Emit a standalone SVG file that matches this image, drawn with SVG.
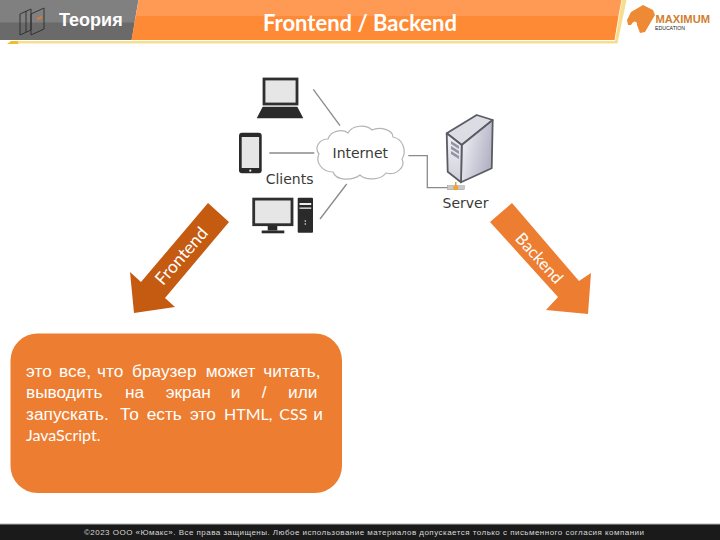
<svg xmlns="http://www.w3.org/2000/svg" width="720" height="540" viewBox="0 0 720 540">
  <defs>
    <linearGradient id="serverSide" x1="0" y1="0" x2="1" y2="0.4">
      <stop offset="0" stop-color="#f6f6fa"/>
      <stop offset="1" stop-color="#b4b4c6"/>
    </linearGradient>
    <linearGradient id="serverFront" x1="0" y1="0" x2="0" y2="1">
      <stop offset="0" stop-color="#f2f2f6"/>
      <stop offset="1" stop-color="#cfcfda"/>
    </linearGradient>
  </defs>
  <style>
    .sans { font-family: "Liberation Sans", Arial, sans-serif; }
    .lato { font-family: Lato, "Open Sans", sans-serif; }
    .label { font-family: "DejaVu Sans", sans-serif; font-size: 14px; fill: #3a3a3a; }
    .body { font-size: 17.300px; fill: #fff; }
    .latin { font-family: Lato, "Open Sans", sans-serif; font-size: 16px; }
    .dark { fill: #2a2a2a; }
    .screen { fill: #e6e6e6; stroke: #2f2f2f; stroke-width: 2.800; }
    .wire { stroke: #8a8a8a; stroke-width: 1.300; fill: none; }
    .tower { stroke: #5a5c64; stroke-width: 1.800; stroke-linejoin: round; }
    .vent { fill: #8f93a3; }
  </style>

  <rect width="720" height="540" fill="#fff"/>

  <g id="header">
    <polygon points="0,0 138.500,0 131.500,40 0,40" fill="#808080"/>
    <polygon points="0,22.500 134.500,22.500 131.500,40 0,40" fill="#6a6a6a"/>
    <polygon points="138.500,0 621.500,0 618.500,16 135.700,16" fill="#ff9a55"/>
    <polygon points="135.700,16 618.500,16 614.500,40 131.500,40" fill="#ff8a35"/>
    <polygon points="7,44 11,41 21,41 18,44" fill="#eebf2c"/>
    <polygon points="18,41 615,41 622,0 626.500,0 617.500,43.500 18,43.500" fill="#f5df8f"/>
    <g fill="none" stroke="#2b2b2b" stroke-width="0.900">
      <polygon points="20,14 31,9 31,30 20,35"/>
      <polygon points="31,14 44,8 44,29 31,35"/>
      <line x1="26" y1="11" x2="26" y2="32"/>
    </g>
    <polygon points="37,18 42,16 42,18 37,20" fill="#e8792c"/>
    <text class="sans" x="59" y="25.500" font-size="18" font-weight="700" fill="#fff">Теория</text>
    <text class="lato" x="360" y="31" font-size="22" font-weight="700" fill="#fff" text-anchor="middle">Frontend / Backend</text>
  </g>

  <g id="logo">
    <polygon points="631,12 643,5 653,10 655,15 645,32 640,33 637,25 628,25 627,20" fill="#ee8a35"/>
    <path d="M631,25 Q634,19 637,23 L637,26 L631,26 Z" fill="#fff"/>
    <text class="sans" x="655.500" y="23" font-size="10.500" font-weight="700" fill="#d0802f" textLength="54.500" lengthAdjust="spacingAndGlyphs">MAXIMUM</text>
    <text class="sans" x="655" y="29.500" font-size="4.500" fill="#222" textLength="30" lengthAdjust="spacingAndGlyphs">EDUCATION</text>
  </g>

  <g id="connectors">
    <line class="wire" x1="313.300" y1="89.300" x2="340" y2="125.700"/>
    <line class="wire" x1="269.300" y1="153" x2="314.300" y2="153"/>
    <line class="wire" x1="346.700" y1="184" x2="320" y2="219"/>
    <polyline class="wire" points="408.300,155.700 427.300,155.700 427.300,187.700 448,187.700"/>
  </g>

  <g id="laptop">
    <rect class="screen" x="264" y="79" width="33" height="25"/>
    <polygon class="dark" points="262.700,106.700 297.300,106.700 303.300,118.300 256.700,118.300"/>
  </g>

  <g id="phone">
    <rect class="dark" x="239" y="132.700" width="22.700" height="40.600" rx="3"/>
    <rect x="241.700" y="137" width="17.400" height="31" fill="#e6e6e6"/>
    <circle cx="250.300" cy="170.700" r="1.100" fill="#eee"/>
  </g>

  <g id="desktop">
    <rect class="screen" x="253.700" y="199.100" width="38.300" height="25.600"/>
    <rect class="dark" x="267.700" y="226" width="9.600" height="4.500"/>
    <rect class="dark" x="261.700" y="230.500" width="22.600" height="2.800"/>
    <rect class="dark" x="297.700" y="197.700" width="15.300" height="35" rx="1"/>
    <rect x="299.500" y="203" width="11.700" height="2" fill="#eee"/>
    <rect x="299.500" y="207.500" width="11.700" height="1.300" fill="#eee"/>
    <circle cx="305.300" cy="221" r="0.800" fill="#eee"/>
    <circle cx="305.300" cy="224" r="0.800" fill="#eee"/>
  </g>

  <g id="clients">
    <text class="label" x="265.700" y="183.500">Clients</text>
  </g>

  <g id="internet">
    <path d="M328,139 C331,130 343,129 348,133 C352,125 366,124 372,130 C380,126 393,130 393,137 C403,139 407,151 402,159 C406,167 396,176 386,173 C381,180 366,181 360,175 C352,181 336,181 333,172 C322,172 315,162 319,154 C314,148 319,139 328,139 Z" fill="#fff" stroke="#b4b4b4" stroke-width="1.200"/>
    <text class="label" x="332.500" y="158">Internet</text>
  </g>

  <g id="server">
    <polygon class="tower" points="446.700,133.300 476.700,115 492.700,120 461.700,145" fill="#dcdce4"/>
    <polygon class="tower" points="461.700,145 492.700,120 491.700,168.300 461,182.300" fill="url(#serverSide)"/>
    <polygon class="tower" points="446.700,133.300 461.700,145 461,182.300 447.700,171.700" fill="url(#serverFront)"/>
    <polygon class="vent" points="451,141 459,146 459,149 451,144"/>
    <polygon class="vent" points="451,146 459,151 459,154 451,149"/>
    <polygon class="vent" points="451,151 459,156 459,159 451,154"/>
    <rect x="455" y="182" width="1.500" height="4" fill="#c9a25a"/>
    <rect x="447.300" y="185.700" width="17" height="4" fill="#c9c9c9" stroke="#9a9a9a" stroke-width="0.500"/>
    <circle cx="455.700" cy="187.700" r="2.500" fill="#f0a32e"/>
    <text class="label" x="442.500" y="207.700">Server</text>
  </g>

  <g id="arrow-frontend">
    <polygon points="208,203 229,222 165,298 175,307 134,313 130,272 141,282" fill="#c55a11"/>
    <text class="lato" font-size="17.500" fill="#fff" text-anchor="middle" transform="translate(186,260) rotate(-49)">Frontend</text>
  </g>

  <g id="arrow-backend">
    <polygon points="512,203 490,222 558,297 546,310 588,314 591,273 579,281" fill="#ed7d31"/>
    <text class="lato" font-size="16.500" fill="#fff" text-anchor="middle" transform="translate(535,262) rotate(48)">Backend</text>
  </g>

  <g id="description">
    <rect x="10.500" y="333.500" width="331.500" height="159.500" rx="27" fill="#ed7d31"/>
    <g class="sans body">
      <text y="376.500"><tspan x="26">это</tspan><tspan x="59">все,</tspan><tspan x="97">что</tspan><tspan x="132">браузер</tspan><tspan x="205.700">может</tspan><tspan x="263.300">читать,</tspan></text>
      <text y="398"><tspan x="26">выводить</tspan><tspan x="125">на</tspan><tspan x="165.700">экран</tspan><tspan x="230.700">и</tspan><tspan x="261.700">/</tspan><tspan x="288">или</tspan></text>
      <text y="420"><tspan x="26">запускать.</tspan><tspan x="120">То</tspan><tspan x="146.700">есть</tspan><tspan x="190">это</tspan><tspan class="latin" x="224">HTML,</tspan><tspan class="latin" x="279.300">CSS</tspan><tspan x="313.300">и</tspan></text>
      <text class="latin" x="26" y="441">JavaScript.</text>
    </g>
  </g>

  <g id="footer">
    <rect y="524" width="720" height="16" fill="#1a1a1a"/>
    <rect y="523.500" width="720" height="1" fill="#b5b5b5"/>
    <text class="sans" x="84" y="535" font-size="8" fill="#d8d8d8" textLength="560" lengthAdjust="spacing">©2023 ООО «Юмакс». Все права защищены. Любое использование материалов допускается только с  письменного согласия компании</text>
  </g>
</svg>
